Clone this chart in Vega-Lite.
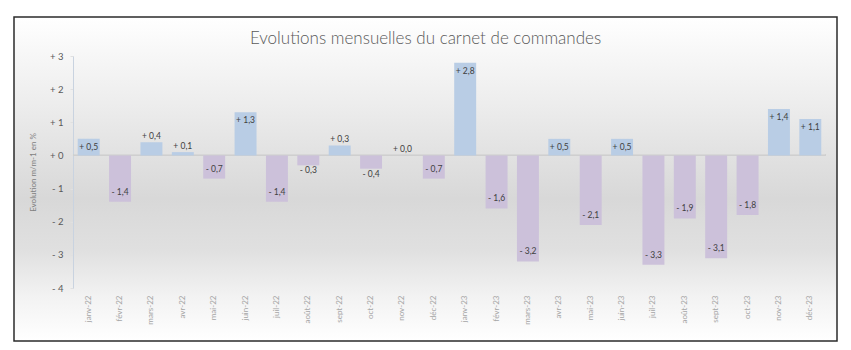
{
  "$schema": "https://vega.github.io/schema/vega-lite/v6.json",
  "width": 823,
  "height": 324,
  "autosize": {"type": "none"},
  "padding": {"left": 14, "top": 17, "right": 14, "bottom": 9},
  "background": "#ffffff",
  "config": {
    "view": {
      "stroke": "#2b2b2b",
      "strokeWidth": 1.5,
      "fill": {"gradient": "linear", "x1": 0, "y1": 0, "x2": 0, "y2": 1,
        "stops": [
          {"offset": 0, "color": "#ffffff"},
          {"offset": 0.25, "color": "#eeeeee"},
          {"offset": 0.56, "color": "#d8d8d8"},
          {"offset": 0.72, "color": "#e0e0e0"},
          {"offset": 0.86, "color": "#f2f2f2"},
          {"offset": 1, "color": "#ffffff"}
        ]}
    },
    "font": "Lato"
  },
  "title": {
    "text": "Evolutions mensuelles du carnet de commandes",
    "anchor": "middle",
    "frame": "group",
    "offset": -31,
    "fontSize": 17,
    "font": "Lato",
    "fontWeight": 300,
    "color": "#595959"
  },
  "data": {
    "values": [
      {"mois": "janv-22", "value": 0.5},
      {"mois": "févr-22", "value": -1.4},
      {"mois": "mars-22", "value": 0.4},
      {"mois": "avr-22", "value": 0.1},
      {"mois": "mai-22", "value": -0.7},
      {"mois": "juin-22", "value": 1.3},
      {"mois": "juil-22", "value": -1.4},
      {"mois": "août-22", "value": -0.3},
      {"mois": "sept-22", "value": 0.3},
      {"mois": "oct-22", "value": -0.4},
      {"mois": "nov-22", "value": 0.0},
      {"mois": "déc-22", "value": -0.7},
      {"mois": "janv-23", "value": 2.8},
      {"mois": "févr-23", "value": -1.6},
      {"mois": "mars-23", "value": -3.2},
      {"mois": "avr-23", "value": 0.5},
      {"mois": "mai-23", "value": -2.1},
      {"mois": "juin-23", "value": 0.5},
      {"mois": "juil-23", "value": -3.3},
      {"mois": "août-23", "value": -1.9},
      {"mois": "sept-23", "value": -3.1},
      {"mois": "oct-23", "value": -1.8},
      {"mois": "nov-23", "value": 1.4},
      {"mois": "déc-23", "value": 1.1}
    ]
  },
  "transform": [
    {"calculate": "(datum.value >= 0 ? '+ ' : '- ') + replace(format(abs(datum.value), '.1f'), '.', ',')", "as": "label"}
  ],
  "encoding": {
    "x": {
      "field": "mois", "type": "nominal", "sort": null,
      "scale": {
        "domain": ["janv-22", "févr-22", "mars-22", "avr-22", "mai-22", "juin-22", "juil-22", "août-22", "sept-22", "oct-22", "nov-22", "déc-22", "janv-23", "févr-23", "mars-23", "avr-23", "mai-23", "juin-23", "juil-23", "août-23", "sept-23", "oct-23", "nov-23", "déc-23"],
        "range": [59, 812], "paddingInner": 0.3, "paddingOuter": 0.15
      },
      "axis": {
        "title": null, "orient": "bottom", "offset": -53,
        "labelAngle": -90, "labelPadding": 7, "ticks": false, "domain": false,
        "labelColor": "#a6a6a6", "labelFontSize": 8, "labelFont": "Lato"
      }
    },
    "y": {
      "field": "value", "type": "quantitative",
      "scale": {"domain": [-4, 3], "range": [271, 39], "nice": false, "zero": false},
      "axis": {
        "title": "Evolution m/m-1 en %", "orient": "left", "offset": -59,
        "values": [-4, -3, -2, -1, 0, 1, 2, 3],
        "labelExpr": "datum.value > 0 ? '+ ' + datum.value : (datum.value < 0 ? '- ' + abs(datum.value) : '+ 0')",
        "grid": false, "ticks": true, "tickSize": 3, "tickColor": "#e0e0e0",
        "domainColor": "#c9d3e0", "domainWidth": 1,
        "labelPadding": 7, "labelColor": "#595959", "labelFontSize": 9.5,
        "titleFontSize": 8, "titleFontWeight": "normal", "titleColor": "#7f7f7f", "titlePadding": 12
      }
    }
  },
  "layer": [
    {
      "mark": {"type": "rule", "color": "#cfcfcf", "strokeWidth": 1},
      "encoding": {
        "y": {"datum": 0},
        "x": {"datum": "janv-22", "bandPosition": -0.21},
        "x2": {"datum": "déc-23", "bandPosition": 1.21}
      }
    },
    {
      "mark": {"type": "bar"},
      "encoding": {
        "color": {"condition": {"test": "datum.value < 0", "value": "#ccc1da"}, "value": "#b9cde5"}
      }
    },
    {
      "transform": [{"filter": "datum.value >= 0.5"}],
      "mark": {"type": "text", "baseline": "top", "dy": 4, "fontSize": 8.5, "color": "#404040"},
      "encoding": {"text": {"field": "label"}}
    },
    {
      "transform": [{"filter": "datum.value >= 0 && datum.value < 0.5"}],
      "mark": {"type": "text", "baseline": "bottom", "dy": -1, "fontSize": 8.5, "color": "#404040"},
      "encoding": {"text": {"field": "label"}}
    },
    {
      "transform": [{"filter": "datum.value <= -0.5"}],
      "mark": {"type": "text", "baseline": "bottom", "dy": -5, "fontSize": 8.5, "color": "#404040"},
      "encoding": {"text": {"field": "label"}}
    },
    {
      "transform": [{"filter": "datum.value < 0 && datum.value > -0.5"}],
      "mark": {"type": "text", "baseline": "top", "dy": 1, "fontSize": 8.5, "color": "#404040"},
      "encoding": {"text": {"field": "label"}}
    }
  ]
}
